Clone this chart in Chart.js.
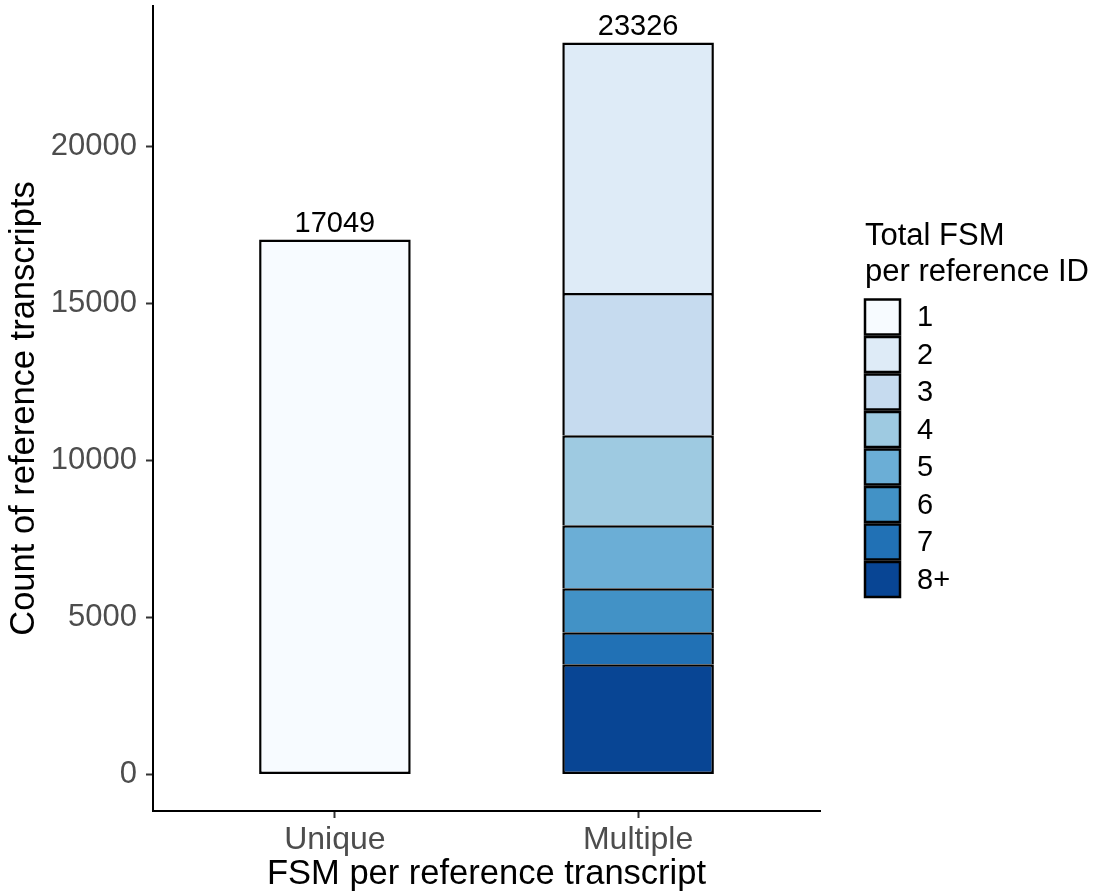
<!DOCTYPE html>
<html>
<head>
<meta charset="utf-8">
<script src="https://cdn.jsdelivr.net/npm/chart.js@4.4.0/dist/chart.umd.min.js"></script>
<style>
  html, body { margin: 0; padding: 0; background: #fff; }
</style>
</head>
<body>
<canvas id="chart" width="1098" height="895"></canvas>
<script>
// data
const categories = ['Unique', 'Multiple'];
const fsmLevels = ['8+', '7', '6', '5', '4', '3', '2', '1'];   // bottom of stack first
const uniqueCounts = [0, 0, 0, 0, 0, 0, 0, 17049];
const multipleCounts = [3509, 1021, 1403, 2010, 2870, 4530, 7983, 0];
const levelColors = ['#084594', '#2171B5', '#4292C6', '#6BAED6', '#9ECAE1', '#C6DBEF', '#DEEBF7', '#F7FBFF'];
const yTicks = [0, 5000, 10000, 15000, 20000];
const legendTitle = ['Total FSM', 'per reference ID'];

const FONT = '"Liberation Sans", Arial, Helvetica, sans-serif';
const countsByCat = [uniqueCounts, multipleCounts];
const totals = countsByCat.map(arr => arr.reduce((a, b) => a + b, 0));
const maxTotal = Math.max(...totals);
const pad = maxTotal * 0.05;

const datasets = fsmLevels.map((lvl, i) => {
  const pts = [];
  countsByCat.forEach((arr, k) => {
    if (arr[i] > 0) pts.push({ x: k + 1, y: arr[i] });
  });
  return {
    label: lvl,
    data: pts,
    backgroundColor: levelColors[i],
    borderColor: '#000',
    borderWidth: 2.5,
    // bottom segment (or a lone one) keeps its bottom edge, others share the line below
    borderSkipped: (i === 0 || lvl === '1') ? false : 'start',
    categoryPercentage: 1,
    barPercentage: 0.5
  };
});

// totals on top of each bar
const totalLabels = {
  id: 'totalLabels',
  afterDatasetsDraw(chart) {
    const ctx = chart.ctx;
    const xs = chart.scales.x, ys = chart.scales.y;
    ctx.save();
    ctx.font = '29px ' + FONT;
    ctx.fillStyle = '#000';
    ctx.textAlign = 'center';
    ctx.textBaseline = 'alphabetic';
    totals.forEach((t, k) => {
      ctx.fillText(String(t), xs.getPixelForValue(k + 1), ys.getPixelForValue(t) - 8);
    });
    ctx.restore();
  }
};

// ggplot-like legend at the right
const fsmLegend = {
  id: 'fsmLegend',
  afterDraw(chart) {
    const ctx = chart.ctx;
    const x0 = 865;
    ctx.save();
    ctx.fillStyle = '#000';
    ctx.font = '31px ' + FONT;
    ctx.textAlign = 'left';
    ctx.textBaseline = 'alphabetic';
    ctx.fillText(legendTitle[0], x0, 245);
    ctx.fillText(legendTitle[1], x0, 281);

    const top = 299.5, step = 37.5, size = 35;
    const order = fsmLevels.slice().reverse();
    order.forEach((lvl, j) => {
      const idx = fsmLevels.indexOf(lvl);
      const y = top + j * step;
      ctx.fillStyle = levelColors[idx];
      ctx.fillRect(x0, y, size, size);
      ctx.lineWidth = 2.5;
      ctx.strokeStyle = '#000';
      ctx.strokeRect(x0, y, size, size);
      ctx.fillStyle = '#000';
      ctx.font = '29px ' + FONT;
      ctx.textBaseline = 'middle';
      ctx.fillText(lvl, 917, y + size / 2 + 1);
    });
    ctx.restore();
  }
};

new Chart(document.getElementById('chart').getContext('2d'), {
  type: 'bar',
  data: { datasets: datasets },
  options: {
    responsive: false,
    animation: false,
    devicePixelRatio: 1,
    layout: { padding: { top: 6, right: 278, left: 0, bottom: 0 } },
    plugins: {
      legend: { display: false },
      tooltip: { enabled: false }
    },
    scales: {
      x: {
        type: 'linear',
        stacked: true,
        offset: false,
        min: 0.4,
        max: 2.6,
        afterBuildTicks: (scale) => { scale.ticks = categories.map((c, i) => ({ value: i + 1 })); },
        afterFit: (scale) => {
          scale.height = 84;
          scale.paddingLeft = 0;
          scale.paddingRight = 0;
        },
        ticks: {
          autoSkip: false,
          maxRotation: 0,
          padding: 3,
          color: '#4d4d4d',
          font: { family: FONT, size: 32 },
          callback: (v) => categories[v - 1]
        },
        grid: { offset: false, drawOnChartArea: false, drawTicks: true, tickLength: 7, tickColor: '#333', tickWidth: 2 },
        border: { display: true, color: '#000', width: 2 },
        title: {
          display: true,
          text: 'FSM per reference transcript',
          color: '#000',
          font: { family: FONT, size: 34.5, lineHeight: 1.2 },
          padding: { top: 0, bottom: 0 }
        }
      },
      y: {
        stacked: true,
        min: -pad,
        max: maxTotal + pad,
        afterBuildTicks: (scale) => { scale.ticks = yTicks.map(v => ({ value: v })); },
        afterFit: (scale) => {
          scale.width = 153;
          scale.paddingTop = 0;
          scale.paddingBottom = 0;
        },
        ticks: {
          padding: 9,
          color: '#4d4d4d',
          font: { family: FONT, size: 31 },
          callback: (v) => String(v)
        },
        grid: { drawOnChartArea: false, drawTicks: true, tickLength: 7, tickColor: '#333', tickWidth: 2 },
        border: { display: true, color: '#000', width: 2 },
        title: {
          display: true,
          text: 'Count of reference transcripts',
          color: '#000',
          font: { family: FONT, size: 34.5, lineHeight: 1.2 },
          padding: { top: 4, bottom: 0 }
        }
      }
    }
  },
  plugins: [totalLabels, fsmLegend]
});
</script>
</body>
</html>
